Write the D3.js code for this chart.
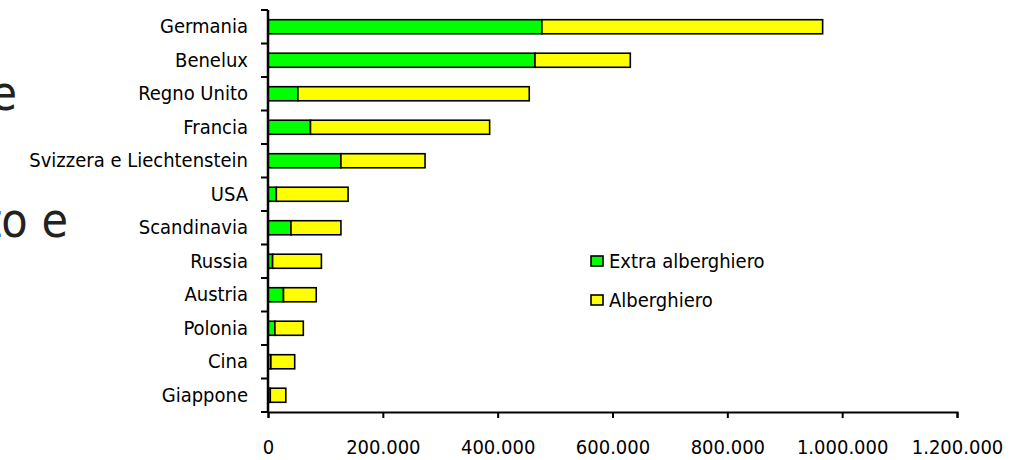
<!DOCTYPE html>
<html>
<head>
<meta charset="utf-8">
<script src="https://cdn.jsdelivr.net/npm/d3@7"></script>
<style>
  html, body { margin: 0; padding: 0; background: #fff; }
  svg { display: block; }
  text { font-family: "DejaVu Sans Condensed", "DejaVu Sans", sans-serif; font-stretch: condensed; }
</style>
</head>
<body>
<svg id="chart" width="1019" height="460"></svg>
<script>
const categories = ["Germania", "Benelux", "Regno Unito", "Francia", "Svizzera e Liechtenstein", "USA",
  "Scandinavia", "Russia", "Austria", "Polonia", "Cina", "Giappone"];
const extraAlberghiero = [477000, 465000, 52000, 74000, 127000, 14500, 40000, 8000, 27000, 12000, 5000, 4000];
const alberghiero = [489000, 166000, 403000, 312000, 146500, 125000, 87000, 85000, 57000, 49500, 41500, 27000];
const seriesNames = ["Extra alberghiero", "Alberghiero"];
const seriesColors = ["#00ff00", "#ffff00"];
const xTicks = [0, 200000, 400000, 600000, 800000, 1000000, 1200000];
const backgroundTexts = ["e", "to e"];

(function () {
const svg = d3.select("#chart");
const mLeft = 268, mRight = 957, mTop = 10, mBottom = 412;

const x = d3.scaleLinear().domain([0, 1200000]).range([mLeft, mRight]);
const y = d3.scaleBand().domain(categories).range([mTop, mBottom]).paddingInner(0.58).paddingOuter(0.29);

// background slide text (partly outside the left edge, as in the reference)
const bgPos = [[17, 110], [68, 237]];
backgroundTexts.forEach((t, i) => {
  svg.append("text").attr("x", bgPos[i][0]).attr("y", bgPos[i][1]).attr("text-anchor", "end")
    .attr("font-size", 48).attr("fill", "#222")
    .style("font-weight", "200").text(t);
});

const fmt = d => d3.format(",")(d).replace(/,/g, ".");

// bars
const stackData = categories.map((c, i) => ({ cat: c, vals: [extraAlberghiero[i], alberghiero[i]] }));
const g = svg.append("g");
stackData.forEach(d => {
  let acc = 0;
  d.vals.forEach((v, si) => {
    g.append("rect")
      .attr("x", x(acc))
      .attr("y", y(d.cat))
      .attr("width", x(acc + v) - x(acc))
      .attr("height", y.bandwidth())
      .attr("fill", seriesColors[si])
      .attr("stroke", "#000")
      .attr("stroke-width", 1.6);
    acc += v;
  });
});

// x axis
const xAxis = d3.axisBottom(x).tickValues(xTicks).tickFormat(fmt).tickSize(6).tickPadding(22);
const gx = svg.append("g").attr("transform", `translate(0,${mBottom})`).call(xAxis);
gx.select(".domain").attr("stroke-width", 2);
gx.selectAll(".tick line").attr("stroke-width", 2);
gx.selectAll("text").attr("font-size", 20).attr("fill", "#000");

// y axis
const yAxis = d3.axisLeft(y).tickSize(0).tickPadding(20);
const gy = svg.append("g").attr("transform", `translate(${mLeft},0)`).call(yAxis);
gy.select(".domain").attr("d", `M0,${mTop}V${mBottom}`).attr("stroke-width", 2.5);
gy.selectAll("text").attr("font-size", 20).attr("fill", "#000");
// boundary tick marks
const bounds = d3.range(categories.length + 1).map(i => mTop + i * y.step());
gy.selectAll(".btick").data(bounds).join("line").attr("class", "btick")
  .attr("x1", -7).attr("x2", 0).attr("y1", d => d).attr("y2", d => d)
  .attr("stroke", "#000").attr("stroke-width", 2);

// legend
const legend = svg.append("g").attr("transform", "translate(591,256)");
seriesNames.forEach((n, i) => {
  const lg = legend.append("g").attr("transform", `translate(0,${i * 39})`);
  lg.append("rect").attr("width", 12).attr("height", 10)
    .attr("fill", seriesColors[i]).attr("stroke", "#000").attr("stroke-width", 1.6);
  lg.append("text").attr("x", 18).attr("y", 5).attr("dy", "0.35em")
    .attr("font-size", 20).attr("fill", "#000").text(n);
});
})();
</script>
</body>
</html>
